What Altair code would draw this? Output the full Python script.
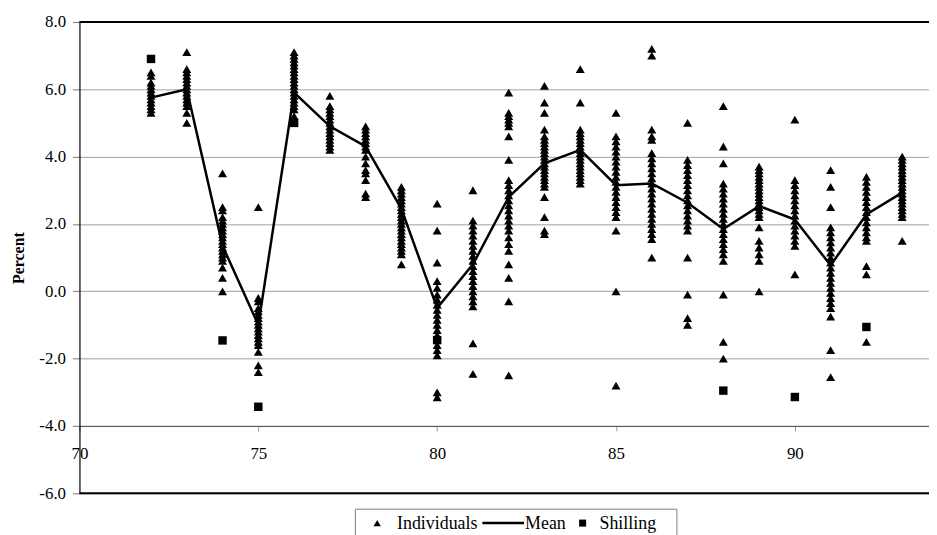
import altair as alt
import pandas as pd

# ---------------- data ----------------
YEARS = [72, 73, 74, 75, 76, 77, 78, 79, 80, 81, 82, 83, 84, 85, 86, 87, 88, 89, 90, 91, 92, 93]

ind72 = [6.5, 6.4, 6.2, 6.1, 6.0, 5.9, 5.8, 5.7, 5.6, 5.5, 5.4, 5.3]
ind73 = [7.1, 6.6, 6.5, 6.4, 6.3, 6.2, 6.1, 6.0, 5.9, 5.8, 5.7, 5.6, 5.5, 5.3, 5.0]
ind74 = [3.5, 2.5, 2.4, 2.2, 2.1, 2.0, 1.9, 1.8, 1.7, 1.6, 1.5, 1.4, 1.3, 1.2, 1.1, 1.0, 0.9, 0.7, 0.4, 0.0]
ind75 = [2.5, -0.2, -0.3, -0.5, -0.6, -0.7, -0.8, -0.9, -1.0, -1.1, -1.2, -1.3, -1.4, -1.5, -1.6, -1.8, -2.2, -2.4]
ind76 = [7.1, 7.0, 6.9, 6.8, 6.7, 6.6, 6.5, 6.4, 6.3, 6.2, 6.1, 6.0, 5.9, 5.8, 5.7, 5.6, 5.5, 5.4, 5.2, 5.1]
ind77 = [5.8, 5.5, 5.4, 5.3, 5.2, 5.1, 5.0, 4.9, 4.8, 4.7, 4.6, 4.5, 4.4, 4.3, 4.2]
ind78 = [4.9, 4.8, 4.7, 4.6, 4.5, 4.4, 4.3, 4.2, 4.0, 3.8, 3.6, 3.5, 3.3, 2.9, 2.8]
ind79 = [3.1, 3.0, 2.9, 2.8, 2.7, 2.6, 2.5, 2.4, 2.3, 2.2, 2.1, 2.0, 1.9, 1.8, 1.7, 1.6, 1.5, 1.4, 1.3, 1.2, 1.1, 0.8]
ind80 = [2.6, 1.8, 0.85, 0.3, 0.1, -0.1, -0.25, -0.4, -0.55, -0.7, -0.85, -1.0, -1.15, -1.3, -1.45, -1.6, -1.75, -1.9, -3.0, -3.15]
ind81 = [3.0, 2.1, 1.95, 1.8, 1.65, 1.5, 1.35, 1.2, 1.05, 0.9, 0.75, 0.6, 0.45, 0.3, 0.15, 0.0, -0.15, -0.3, -0.45, -1.55, -2.45]
ind82 = [5.9, 5.3, 5.2, 5.1, 5.0, 4.9, 4.6, 3.9, 3.3, 3.15, 3.0, 2.85, 2.7, 2.55, 2.4, 2.25, 2.1, 1.95, 1.8, 1.6, 1.4, 1.2, 0.8, 0.4, -0.3, -2.5]
ind83 = [6.1, 5.6, 5.3, 4.8, 4.6, 4.5, 4.4, 4.3, 4.2, 4.1, 4.0, 3.9, 3.8, 3.7, 3.6, 3.5, 3.4, 3.3, 3.2, 3.1, 2.8, 2.2, 1.8, 1.7]
ind84 = [6.6, 5.6, 4.8, 4.7, 4.6, 4.5, 4.4, 4.3, 4.2, 4.1, 4.0, 3.9, 3.8, 3.7, 3.6, 3.5, 3.4, 3.3, 3.2]
ind85 = [5.3, 4.6, 4.45, 4.3, 4.15, 4.0, 3.85, 3.7, 3.55, 3.4, 3.25, 3.1, 2.95, 2.8, 2.65, 2.5, 2.35, 2.2, 1.8, 0.0, -2.8]
ind86 = [7.2, 7.0, 4.8, 4.6, 4.5, 4.1, 3.95, 3.8, 3.65, 3.5, 3.35, 3.2, 3.05, 2.9, 2.75, 2.6, 2.45, 2.3, 2.15, 2.0, 1.85, 1.7, 1.55, 1.0]
ind87 = [5.0, 3.9, 3.75, 3.6, 3.45, 3.3, 3.15, 3.0, 2.85, 2.7, 2.55, 2.4, 2.25, 2.1, 1.95, 1.8, 1.0, -0.1, -0.8, -1.0]
ind88 = [5.5, 4.3, 3.8, 3.2, 3.05, 2.9, 2.75, 2.6, 2.45, 2.3, 2.15, 2.0, 1.85, 1.7, 1.55, 1.4, 1.25, 1.1, 0.9, -0.1, -1.5, -2.0]
ind89 = [3.7, 3.6, 3.5, 3.4, 3.3, 3.2, 3.1, 3.0, 2.9, 2.8, 2.7, 2.6, 2.5, 2.4, 2.3, 2.2, 1.9, 1.5, 1.3, 1.1, 0.9, 0.0]
ind90 = [5.1, 3.3, 3.15, 3.0, 2.85, 2.7, 2.55, 2.4, 2.25, 2.1, 1.95, 1.8, 1.65, 1.5, 1.35, 0.5]
ind91 = [3.6, 3.1, 2.5, 1.9, 1.75, 1.6, 1.45, 1.3, 1.15, 1.0, 0.85, 0.7, 0.55, 0.4, 0.25, 0.1, -0.05, -0.2, -0.35, -0.5, -0.75, -1.75, -2.55]
ind92 = [3.4, 3.25, 3.1, 2.95, 2.8, 2.65, 2.5, 2.35, 2.2, 2.05, 1.9, 1.75, 1.6, 1.5, 0.75, 0.5, -1.5]
ind93 = [4.0, 3.9, 3.8, 3.7, 3.6, 3.5, 3.4, 3.3, 3.2, 3.1, 3.0, 2.9, 2.8, 2.7, 2.6, 2.5, 2.4, 2.3, 2.2, 1.5]

MEAN = [5.75, 6.0, 1.35, -1.0, 5.9, 4.9, 4.3, 2.45, -0.5, 0.8, 2.8, 3.8, 4.2, 3.15, 3.2,
        2.63, 1.85, 2.53, 2.13, 0.77, 2.28, 2.93]

SHILLING_YEARS = [72, 74, 75, 76, 80, 88, 90, 92]
SHILLING = [6.9, -1.46, -3.43, 5.0, -1.45, -2.95, -3.14, -1.06]

SERIES = ["Individuals", "Mean", "Shilling"]
X_TICKS = [70, 75, 80, 85, 90]
Y_TICKS = [-6, -4, -2, 0, 2, 4, 6, 8]
BORDERS = [8, -6]

# ---------------- tables ----------------
ind_lists = [ind72, ind73, ind74, ind75, ind76, ind77, ind78, ind79, ind80, ind81, ind82,
             ind83, ind84, ind85, ind86, ind87, ind88, ind89, ind90, ind91, ind92, ind93]
rows = []
for yr, vals in zip(YEARS, ind_lists):
    for v in vals:
        rows.append({"year": yr, "value": v, "series": SERIES[0]})
ind_df = pd.DataFrame(rows)
mean_df = pd.DataFrame({"year": YEARS, "value": MEAN, "series": SERIES[1]})
shil_df = pd.DataFrame({"year": SHILLING_YEARS, "value": SHILLING, "series": SERIES[2]})
border_df = pd.DataFrame({"value": BORDERS})

W, H = 856, 475
SERIF = "Liberation Serif, Times New Roman, serif"
Y_DOMAIN = [-6, 8]

x_enc = alt.X(
    "year:Q",
    scale=alt.Scale(domain=[70, 93.75], nice=False, zero=False),
    axis=alt.Axis(
        values=X_TICKS, title=None, grid=False, offset=-H * 2 / 14,
        domainColor="#555555", domainWidth=1, tickColor="#999999", tickSize=5,
        labelFont=SERIF, labelFontSize=17, labelColor="black", labelPadding=15,
        labelFlush=False, labelOverlap=False,
    ),
)
y_enc = alt.Y(
    "value:Q",
    scale=alt.Scale(domain=Y_DOMAIN, nice=False, zero=False),
    axis=alt.Axis(
        values=Y_TICKS, title="Percent", grid=True,
        labelExpr="replace(format(datum.value, '.1f'), '\u2212', '-')",
        gridColor="#a0a0a0", gridWidth=1,
        domainColor="black", domainWidth=1.2, tickColor="#777777", tickSize=7,
        labelFont=SERIF, labelFontSize=17, labelColor="black", labelPadding=7,
        titleFont=SERIF, titleFontSize=16, titleFontWeight="bold", titleColor="black",
        titlePadding=12,
    ),
)

points_ind = alt.Chart(ind_df).mark_point(
    shape="triangle-up", filled=True, color="black", opacity=1, size=82
).encode(x=x_enc, y=y_enc)
points_shil = alt.Chart(shil_df).mark_point(
    shape="square", filled=True, color="black", opacity=1, size=72
).encode(x=x_enc, y=y_enc)
mean_line = alt.Chart(mean_df).mark_line(color="black", strokeWidth=2.5).encode(
    x=x_enc, y=y_enc
)
borders = alt.Chart(border_df).mark_rule(color="black", strokeWidth=2).encode(
    y=alt.Y("value:Q", scale=alt.Scale(domain=Y_DOMAIN, nice=False, zero=False)),
    x=alt.value(0), x2=alt.value(W),
)

# ---------------- legend (drawn below the plot, as in the reference) ----------------
LY = 505  # vertical centre of the legend row, relative to the plot top
one = lambda s: pd.DataFrame({"label": [s]})
leg_box = alt.Chart(one("box")).mark_rect(
    fill="white", stroke="#808080", strokeWidth=1
).encode(x=alt.value(278), x2=alt.value(602), y=alt.value(491), y2=alt.value(540))
leg_tri = alt.Chart(one(SERIES[0])).mark_point(
    shape="triangle-up", filled=True, color="black", opacity=1, size=55
).encode(x=alt.value(300), y=alt.value(LY))
leg_line = alt.Chart(one(SERIES[1])).mark_rule(color="black", strokeWidth=2.5).encode(
    x=alt.value(406), x2=alt.value(448), y=alt.value(LY)
)
leg_sq = alt.Chart(one(SERIES[2])).mark_point(
    shape="square", filled=True, color="black", opacity=1, size=50
).encode(x=alt.value(507), y=alt.value(LY))


def leg_text(label, xpos):
    return alt.Chart(one(label)).mark_text(
        align="left", baseline="middle", font=SERIF, fontSize=18, color="black"
    ).encode(x=alt.value(xpos), y=alt.value(LY + 1), text="label:N")


chart = (
    alt.layer(
        borders, mean_line, points_ind, points_shil,
        leg_box, leg_tri, leg_line, leg_sq,
        leg_text(SERIES[0], 320), leg_text(SERIES[1], 449), leg_text(SERIES[2], 524),
    )
    .properties(
        width=W, height=H,
        padding={"left": 72, "top": 12, "right": 0, "bottom": 40},
        autosize=alt.AutoSizeParams(type="none"),
        background="white",
    )
    .configure(font=SERIF)
    .configure_view(stroke=None)
)

chart.save("out.html", embed_options={"renderer": "svg", "actions": False})
